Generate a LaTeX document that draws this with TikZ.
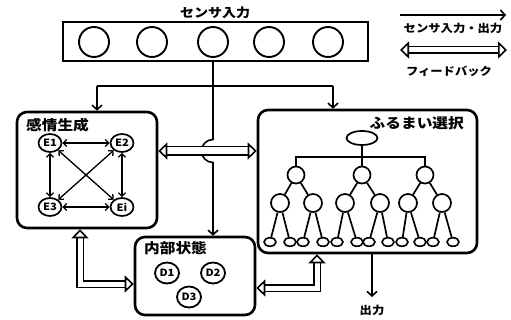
\documentclass[tikz,border=0pt]{standalone}
\usepackage{fontspec}
\usetikzlibrary{arrows.meta,calc,shapes.geometric}
\newfontfamily\jp{Noto Sans CJK JP}[FakeStretch=1.12]
\begin{document}
\begin{tikzpicture}[x=1pt,y=-1pt,
  every node/.style={font=\jp\bfseries},
  lbl/.style={inner sep=0pt, font=\jp\bfseries\fontsize{14}{14}\selectfont},
  slbl/.style={inner sep=0pt, font=\jp\bfseries\fontsize{11}{11}\selectfont},
  bigbox/.style={draw, line width=2.6pt, rounded corners=10pt, inner sep=0pt},
  sensbox/.style={draw, line width=2.2pt, inner sep=0pt},
  sc/.style={draw, circle, line width=1.9pt, minimum size=30pt, inner sep=0pt},
  en/.style={draw, ellipse, line width=1.7pt, minimum width=23pt, minimum height=18pt, inner sep=0pt, font=\jp\bfseries\fontsize{10}{10}\selectfont},
  dn/.style={draw, ellipse, line width=1.8pt, minimum width=24pt, minimum height=21pt, inner sep=0pt, font=\jp\bfseries\fontsize{10}{10}\selectfont},
  tn/.style={draw, circle, line width=1.7pt, minimum size=17pt, inner sep=0pt},
  leaf/.style={draw, ellipse, line width=1.6pt, minimum width=12pt, minimum height=8.5pt, inner sep=0pt},
  tl/.style={line width=1.7pt},
  sig/.style={line width=1.6pt, -{Straight Barb[length=4.5pt,width=10pt,line width=1.6pt]}},
  sline/.style={line width=1.6pt},
  emo/.style={line width=1.3pt, {Straight Barb[length=3.5pt,width=7pt,line width=1.3pt]}-{Straight Barb[length=3.5pt,width=7pt,line width=1.3pt]}},
  fb/.style={double, double distance=5pt, line width=1.6pt},
  fbboth/.style={{Triangle[open,length=9pt,width=17pt,line width=1.6pt]}-{Triangle[open,length=9pt,width=17pt,line width=1.6pt]}}
]
\useasboundingbox (0,0) rectangle (511,320);

% sensor
\node[sensbox, minimum width=305pt, minimum height=39pt] (sensor) at (215.5,41.5) {};
\node[lbl, font=\jp\bfseries\fontsize{12.5}{12.5}\selectfont] (lsens) at (215,13) {センサ入力};
\node[sc] (s1) at (94,42) {};
\node[sc] (s2) at (152,42) {};
\node[sc] (s3) at (213,42) {};
\node[sc] (s4) at (269,42) {};
\node[sc] (s5) at (328,42) {};

% boxes
\node[bigbox, minimum width=140pt, minimum height=116pt] (emo) at (87,170) {};
\node[lbl, anchor=west] (lemo) at (26,125) {感情生成};
\node[bigbox, minimum width=120pt, minimum height=78pt] (inner) at (195,276) {};
\node[lbl, anchor=west] (linner) at (144,248) {内部状態};
\node[bigbox, minimum width=219pt, minimum height=143pt] (beh) at (367.5,181.5) {};
\node[lbl, anchor=east] (lbeh) at (464,123) {ふるまい選択};

% emotion nodes
\node[en] (E1) at (50,143) {E1};
\node[en] (E2) at (122,143) {E2};
\node[en] (E3) at (50,207) {E3};
\node[en] (Ei) at (122,207) {Ei};
\draw[emo] (E1) -- (E2);
\draw[emo] (E3) -- (Ei);
\draw[emo] (E1) -- (E3);
\draw[emo] (E2) -- (Ei);
\draw[emo] (E1) -- (Ei);
\draw[emo] (E2) -- (E3);

% internal state nodes
\node[dn] (D1) at (167,273) {D1};
\node[dn] (D2) at (213,273) {D2};
\node[dn] (D3) at (189,297) {D3};

% sensor signal lines
\coordinate (ja) at (97,86);
\coordinate (jb) at (333,86);
\coordinate (hop) at (213,151);
\draw[sline] (ja) -- (jb);
\draw[sig] (ja) -- (ja |- emo.north);
\draw[sig] (jb) -- (jb |- beh.north);
\draw[sig] (s3.south |- sensor.south) -- ($(hop)+(0,-11.5)$) arc[start angle=90, end angle=270, radius=11.5pt] -- (s3 |- inner.north);

% feedback arrows
\draw[fb, double distance=7pt, fbboth] (emo.east |- hop) -- (beh.west |- hop);
\coordinate (fa) at (80,284);
\draw[fb, fbboth] (emo.south -| fa) |- (inner.west |- fa);
\coordinate (fc) at (317,288);
\draw[fb, fbboth] (inner.east |- fc) -| (beh.south -| fc);

% output
\coordinate (outp) at (372,297);
\draw[sig] (beh.south -| outp) -- (outp);
\node[slbl] (lout) at (372,310) {出力};

% legend
\coordinate (la) at (400,15);
\coordinate (lb) at (506,15);
\draw[sig] (la) -- (lb);
\node[slbl] (lleg1) at (453,28) {センサ入力・出力};
\coordinate (lc) at (400,50);
\coordinate (ld) at (507,50);
\draw[fb, fbboth] (lc) -- (ld);
\node[slbl] (lleg2) at (449,71) {フィードバック};

% tree
\node[draw, ellipse, line width=1.7pt, minimum width=31pt, minimum height=14pt, inner sep=0pt] (root) at (362,138) {};
\node[tn] (a1) at (296,175) {};
\node[tn] (a2) at (362,175) {};
\node[tn] (a3) at (425,175) {};
\coordinate (bar) at (362,157);
\draw[tl] (root.south) -- (bar);
\draw[tl] (a1.north) |- (bar) -| (a3.north);
\draw[tl] (bar) -- (a2.north);
\foreach \n/\x/\p in {b1/280/a1, b2/313/a1, b3/345/a2, b4/380/a2, b5/408/a3, b6/442/a3}{
  \node[tn, minimum size=18pt] (\n) at (\x,203) {};
  \draw[tl] (\p) -- (\n);
}
\foreach \n/\x/\p in {c1/270/b1, c2/290/b1, c3/303/b2, c4/323/b2, c5/337/b3, c6/357/b3, c7/369/b4, c8/388/b4, c9/402/b5, c10/420/b5, c11/433/b6, c12/453/b6}{
  \node[leaf] (\n) at (\x,242) {};
  \draw[tl] (\p) -- (\n);
}
\end{tikzpicture}
\end{document}
